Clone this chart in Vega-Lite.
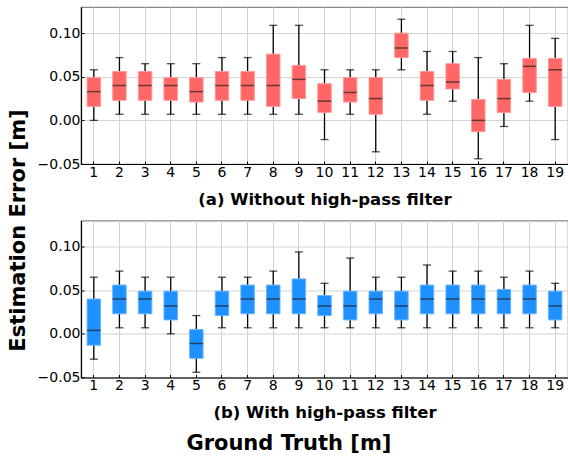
{
  "$schema": "https://vega.github.io/schema/vega-lite/v6.json",
  "background": "white",
  "padding": {"left": 6, "top": 6, "right": 0, "bottom": 5},
  "spacing": 56.5,
  "bounds": "flush",
  "title": {"text": "Ground Truth [m]", "orient": "bottom", "anchor": "start", "dx": 180, "font": "DejaVu Sans", "fontSize": 21, "fontWeight": "bold", "color": "black", "offset": 11},
  "config": {
    "font": "DejaVu Sans",
    "view": {"stroke": "#888888", "strokeWidth": 1.2},
    "axis": {"labelFont": "DejaVu Sans", "labelFontSize": 14, "labelColor": "black", "titleFont": "DejaVu Sans", "titleColor": "black", "domainColor": "black", "domainWidth": 1.2, "tickColor": "black", "gridColor": "#d3d3d3", "gridWidth": 1}
  },
  "datasets": {
    "a": [
      {"gt": 1, "lo": 0.000, "q1": 0.016, "med": 0.033, "q3": 0.049, "hi": 0.058},
      {"gt": 2, "lo": 0.007, "q1": 0.023, "med": 0.040, "q3": 0.056, "hi": 0.072},
      {"gt": 3, "lo": 0.007, "q1": 0.023, "med": 0.040, "q3": 0.056, "hi": 0.065},
      {"gt": 4, "lo": 0.007, "q1": 0.023, "med": 0.040, "q3": 0.049, "hi": 0.065},
      {"gt": 5, "lo": 0.007, "q1": 0.021, "med": 0.033, "q3": 0.049, "hi": 0.065},
      {"gt": 6, "lo": 0.007, "q1": 0.023, "med": 0.040, "q3": 0.056, "hi": 0.072},
      {"gt": 7, "lo": 0.007, "q1": 0.023, "med": 0.040, "q3": 0.056, "hi": 0.072},
      {"gt": 8, "lo": 0.007, "q1": 0.016, "med": 0.040, "q3": 0.076, "hi": 0.109},
      {"gt": 9, "lo": 0.007, "q1": 0.025, "med": 0.047, "q3": 0.063, "hi": 0.109},
      {"gt": 10, "lo": -0.022, "q1": 0.009, "med": 0.022, "q3": 0.042, "hi": 0.058},
      {"gt": 11, "lo": 0.007, "q1": 0.021, "med": 0.032, "q3": 0.049, "hi": 0.058},
      {"gt": 12, "lo": -0.036, "q1": 0.007, "med": 0.025, "q3": 0.049, "hi": 0.058},
      {"gt": 13, "lo": 0.058, "q1": 0.072, "med": 0.083, "q3": 0.100, "hi": 0.116},
      {"gt": 14, "lo": 0.007, "q1": 0.023, "med": 0.040, "q3": 0.056, "hi": 0.079},
      {"gt": 15, "lo": 0.022, "q1": 0.036, "med": 0.044, "q3": 0.065, "hi": 0.079},
      {"gt": 16, "lo": -0.044, "q1": -0.013, "med": 0.000, "q3": 0.024, "hi": 0.072},
      {"gt": 17, "lo": -0.007, "q1": 0.009, "med": 0.025, "q3": 0.047, "hi": 0.065},
      {"gt": 18, "lo": 0.022, "q1": 0.032, "med": 0.062, "q3": 0.071, "hi": 0.109},
      {"gt": 19, "lo": -0.022, "q1": 0.016, "med": 0.058, "q3": 0.071, "hi": 0.094}
    ],
    "b": [
      {"gt": 1, "lo": -0.029, "q1": -0.013, "med": 0.004, "q3": 0.040, "hi": 0.065},
      {"gt": 2, "lo": 0.007, "q1": 0.023, "med": 0.040, "q3": 0.056, "hi": 0.072},
      {"gt": 3, "lo": 0.007, "q1": 0.023, "med": 0.040, "q3": 0.049, "hi": 0.065},
      {"gt": 4, "lo": 0.000, "q1": 0.016, "med": 0.032, "q3": 0.049, "hi": 0.065},
      {"gt": 5, "lo": -0.044, "q1": -0.028, "med": -0.011, "q3": 0.005, "hi": 0.021},
      {"gt": 6, "lo": 0.007, "q1": 0.021, "med": 0.032, "q3": 0.049, "hi": 0.065},
      {"gt": 7, "lo": 0.007, "q1": 0.023, "med": 0.040, "q3": 0.056, "hi": 0.065},
      {"gt": 8, "lo": 0.007, "q1": 0.023, "med": 0.040, "q3": 0.056, "hi": 0.072},
      {"gt": 9, "lo": 0.007, "q1": 0.023, "med": 0.040, "q3": 0.063, "hi": 0.094},
      {"gt": 10, "lo": 0.007, "q1": 0.021, "med": 0.032, "q3": 0.044, "hi": 0.058},
      {"gt": 11, "lo": 0.007, "q1": 0.016, "med": 0.032, "q3": 0.049, "hi": 0.087},
      {"gt": 12, "lo": 0.007, "q1": 0.023, "med": 0.040, "q3": 0.049, "hi": 0.065},
      {"gt": 13, "lo": 0.007, "q1": 0.016, "med": 0.032, "q3": 0.049, "hi": 0.065},
      {"gt": 14, "lo": 0.007, "q1": 0.023, "med": 0.040, "q3": 0.056, "hi": 0.079},
      {"gt": 15, "lo": 0.007, "q1": 0.023, "med": 0.040, "q3": 0.056, "hi": 0.072},
      {"gt": 16, "lo": 0.007, "q1": 0.023, "med": 0.040, "q3": 0.056, "hi": 0.072},
      {"gt": 17, "lo": 0.007, "q1": 0.023, "med": 0.040, "q3": 0.051, "hi": 0.065},
      {"gt": 18, "lo": 0.007, "q1": 0.023, "med": 0.040, "q3": 0.056, "hi": 0.072},
      {"gt": 19, "lo": 0.007, "q1": 0.016, "med": 0.032, "q3": 0.049, "hi": 0.058}
    ]
  },
  "vconcat": [
    {
      "width": 487,
      "height": 157,
      "data": {"name": "a"},
      "encoding": {
        "x": {"field": "gt", "type": "ordinal", "scale": {"paddingInner": 0, "paddingOuter": 0},
              "axis": {"title": "(a) Without high-pass filter", "titleFontSize": 16.5, "titleFontWeight": "bold", "titlePadding": 12, "labelAngle": 0, "labelPadding": 4, "tickSize": -3, "grid": true, "bandPosition": 0.5}}
      },
      "layer": [
        {"mark": {"type": "rule", "color": "black", "strokeWidth": 1.3},
         "encoding": {"y": {"field": "lo", "type": "quantitative", "scale": {"domain": [-0.05, 0.13], "nice": false, "zero": false},
                            "axis": {"values": [-0.05, 0, 0.05, 0.1], "format": ".2f", "grid": true, "tickSize": -3, "labelPadding": 4,
                                     "title": "Estimation Error [m]", "titleFontSize": 21, "titleFontWeight": "bold", "titleY": 223, "titleX": -53}},
                      "y2": {"field": "hi"}}},
        {"mark": {"type": "bar", "color": "#FF6666", "stroke": "#FF9A9A", "strokeWidth": 1, "width": 13.5},
         "encoding": {"y": {"field": "q1", "type": "quantitative"}, "y2": {"field": "q3"}}},
        {"mark": {"type": "tick", "color": "#222222", "size": 13.5, "thickness": 1.5},
         "encoding": {"y": {"field": "med", "type": "quantitative"}}},
        {"mark": {"type": "tick", "color": "black", "size": 8, "thickness": 1.3},
         "encoding": {"y": {"field": "lo", "type": "quantitative"}}},
        {"mark": {"type": "tick", "color": "black", "size": 8, "thickness": 1.3},
         "encoding": {"y": {"field": "hi", "type": "quantitative"}}}
      ]
    },
    {
      "width": 487,
      "height": 157,
      "data": {"name": "b"},
      "encoding": {
        "x": {"field": "gt", "type": "ordinal", "scale": {"paddingInner": 0, "paddingOuter": 0},
              "axis": {"title": "(b) With high-pass filter", "titleFontSize": 16.5, "titleFontWeight": "bold", "titlePadding": 12, "labelAngle": 0, "labelPadding": 4, "tickSize": -3, "grid": true, "bandPosition": 0.5}}
      },
      "layer": [
        {"mark": {"type": "rule", "color": "black", "strokeWidth": 1.3},
         "encoding": {"y": {"field": "lo", "type": "quantitative", "scale": {"domain": [-0.05, 0.13], "nice": false, "zero": false},
                            "axis": {"values": [-0.05, 0, 0.05, 0.1], "format": ".2f", "grid": true, "tickSize": -3, "labelPadding": 4, "title": null}},
                      "y2": {"field": "hi"}}},
        {"mark": {"type": "bar", "color": "#1E90FF", "stroke": "#6CB6FF", "strokeWidth": 1, "width": 13.5},
         "encoding": {"y": {"field": "q1", "type": "quantitative"}, "y2": {"field": "q3"}}},
        {"mark": {"type": "tick", "color": "#222222", "size": 13.5, "thickness": 1.5},
         "encoding": {"y": {"field": "med", "type": "quantitative"}}},
        {"mark": {"type": "tick", "color": "black", "size": 8, "thickness": 1.3},
         "encoding": {"y": {"field": "lo", "type": "quantitative"}}},
        {"mark": {"type": "tick", "color": "black", "size": 8, "thickness": 1.3},
         "encoding": {"y": {"field": "hi", "type": "quantitative"}}}
      ]
    }
  ]
}
